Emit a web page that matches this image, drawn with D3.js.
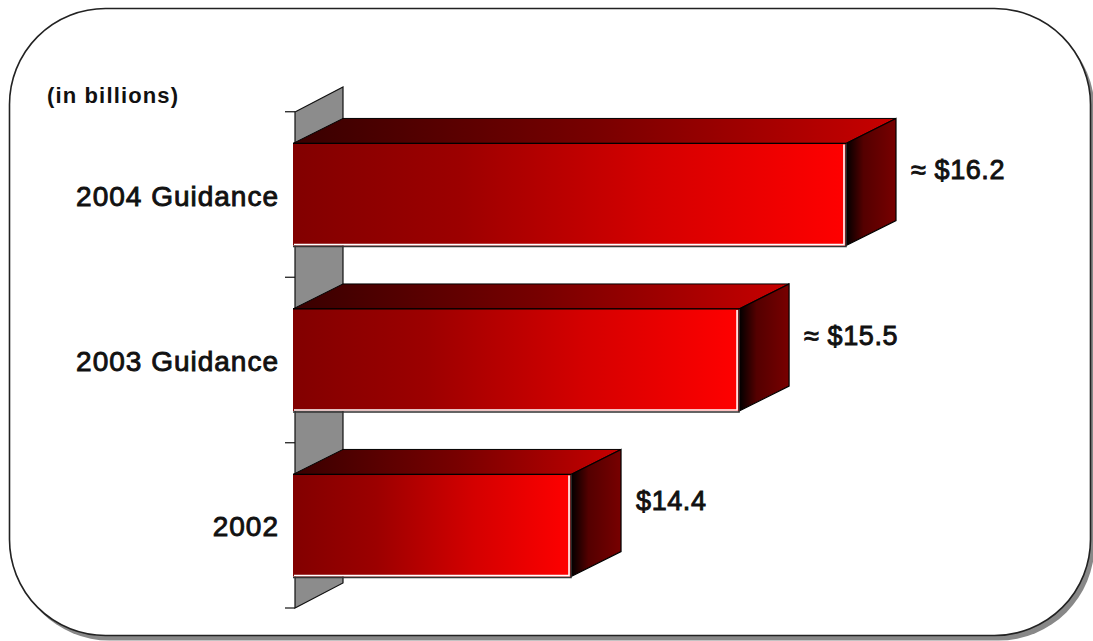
<!DOCTYPE html>
<html><head><meta charset="utf-8">
<script src="https://cdn.jsdelivr.net/npm/d3@7"></script>
<style>body{margin:0;background:#fff}svg{display:block}</style>
</head><body><svg id="c" width="1093" height="641"></svg>
<script>
const categories = ["2004 Guidance", "2003 Guidance", "2002"];
const values = [16.2, 15.5, 14.4];
const valueLabels = ["≈ $16.2", "≈ $15.5", "$14.4"];
const unitLabel = "(in billions)";
const xDomain = [12.58, 16.2];

const svg = d3.select("#c");
const FONT = "'Liberation Sans', Arial, Helvetica, sans-serif";
const dx = 50, dy = -25;
const x = d3.scaleLinear().domain(xDomain).range([293, 846]);
const y = d3.scaleBand().domain(categories).range([112, 608]).paddingInner(0.383).paddingOuter(0.19);

const defs = svg.append("defs");
function grad(id, stops) {
  const g = defs.append("linearGradient").attr("id", id).attr("x1", 0).attr("y1", 0).attr("x2", 1).attr("y2", 0);
  stops.forEach(([o, c]) => g.append("stop").attr("offset", o).attr("stop-color", c));
}
grad("gFront", [[0, "#820000"], [0.3, "#9c0000"], [0.65, "#d40000"], [1, "#ff0000"]]);
grad("gTop", [[0, "#380000"], [0.5, "#780000"], [1, "#c80000"]]);
grad("gSide", [[0, "#000000"], [0.35, "#540000"], [1, "#780000"]]);

// frame with shadow
svg.append("rect").attr("x", 13.5).attr("y", 13.5).attr("width", 1081).attr("height", 627)
  .attr("rx", 96).attr("fill", "#888");
svg.append("rect").attr("x", 9.5).attr("y", 8.5).attr("width", 1081).attr("height", 627)
  .attr("rx", 96).attr("fill", "#fff").attr("stroke", "#222").attr("stroke-width", 1.6);

// wall
const x0 = x(xDomain[0]);
const wTop = y.range()[0], wBot = y.range()[1];
const wallX = x0 + 2;
svg.append("path")
  .attr("d", `M${wallX},${wTop}L${wallX + dx - 2},${wTop + dy}L${wallX + dx - 2},${wBot + dy}L${wallX},${wBot}Z`)
  .attr("fill", "#8c8c8c").attr("stroke", "#111").attr("stroke-width", 1.2);

// ticks at band boundaries
const tickYs = categories.map(c => y(c) - y.step() * y.paddingInner() / 2).concat([wBot]);
svg.selectAll("line.tick").data(tickYs).join("line").attr("class", "tick")
  .attr("x1", wallX - 10).attr("x2", wallX).attr("y1", d => d).attr("y2", d => d)
  .attr("stroke", "#111").attr("stroke-width", 1.2);

function label(sel, size, ls) {
  return sel.attr("font-family", FONT).attr("font-size", size).attr("fill", "#111")
    .attr("letter-spacing", ls)
    .attr("stroke", "#111").attr("stroke-width", 0.9).attr("paint-order", "stroke");
}

// bars
const bars = svg.selectAll("g.bar").data(categories.map((c, i) => ({ c, v: values[i], lab: valueLabels[i] })))
  .join("g").attr("class", "bar");
bars.each(function (d) {
  const g = d3.select(this);
  const xl = x0, xr = x(d.v), yt = y(d.c), yb = y(d.c) + y.bandwidth();
  // top face
  g.append("path").attr("d", `M${xl},${yt}L${xl + dx},${yt + dy}L${xr + dx},${yt + dy}L${xr},${yt}Z`)
    .attr("fill", "url(#gTop)").attr("stroke", "#000").attr("stroke-width", 1).attr("stroke-linejoin", "round");
  // side face
  g.append("path").attr("d", `M${xr},${yt}L${xr + dx},${yt + dy}L${xr + dx},${yb + dy}L${xr},${yb}Z`)
    .attr("fill", "url(#gSide)").attr("stroke", "#000").attr("stroke-width", 1.2);
  // front face
  g.append("rect").attr("x", xl).attr("y", yt).attr("width", xr - xl).attr("height", yb - yt)
    .attr("fill", "url(#gFront)");
  g.append("path").attr("d", `M${xl},${yb + 1}L${xr},${yb + 1}L${xr},${yt}`)
    .attr("fill", "none").attr("stroke", "#333").attr("stroke-width", 1.5);
  g.append("path").attr("d", `M${xl + 1},${yb - 1}L${xr - 2},${yb - 1}L${xr - 2},${yt + 1}`)
    .attr("fill", "none").attr("stroke", "#fff").attr("stroke-width", 1.6);
  g.append("line").attr("x1", xl).attr("x2", xr).attr("y1", yt).attr("y2", yt)
    .attr("stroke", "#000").attr("stroke-width", 1.2);
  // value label
  label(g.append("text"), 27, 0.6).attr("x", xr + dx + 15).attr("y", yt + 36).text(d.lab);
  // category label
  label(g.append("text"), 28, 1).attr("x", 279).attr("y", (yt + yb) / 2 + 11).attr("text-anchor", "end")
    .text(d.c);
});

svg.append("text").attr("x", 47).attr("y", 103)
  .attr("font-family", FONT).attr("font-weight", "bold").attr("font-size", 22).attr("fill", "#111")
  .attr("textLength", 131).attr("lengthAdjust", "spacing")
  .text(unitLabel);
</script>
</body></html>
